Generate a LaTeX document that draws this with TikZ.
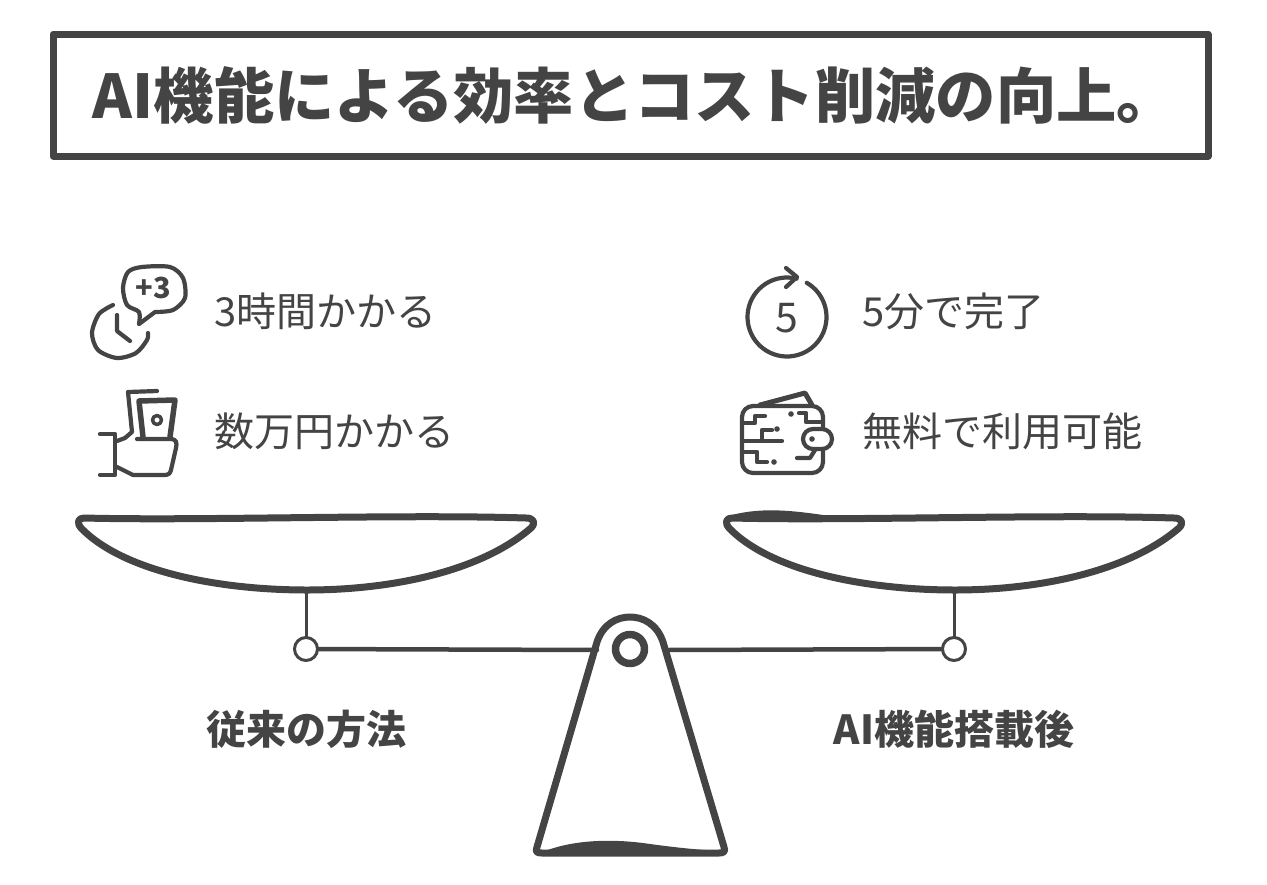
\documentclass[tikz,border=0pt]{standalone}
\usepackage{fontspec}
\setmainfont{Noto Sans CJK JP}
\definecolor{ink}{HTML}{444444}
\begin{document}
\begin{tikzpicture}[x=1pt, y=-1pt, line join=round, line cap=round, draw=ink, text=ink,
  pin/.style={draw, circle, line width=3pt, minimum size=23pt, inner sep=0pt, fill=white},
  item/.style={anchor=west, inner sep=0pt, font=\fontsize{40}{40}\selectfont},
  side/.style={inner sep=0pt, font=\fontsize{40}{40}\selectfont\bfseries},
  icon/.style={line width=4.2pt}]
\useasboundingbox (0,0) rectangle (1267,884);
% title box
\node[draw, line width=7pt, minimum width=1155pt, minimum height=122pt, inner sep=0pt] (titlebox) at (630.5,95) {};
\node[inner sep=0pt, font=\fontsize{60.3}{60}\selectfont\bfseries] (title) at (635,95) {AI機能による効率とコスト削減の向上。};
% texts
\node[item] (timeL) at (214,311) {3時間かかる};
\node[item] (costL) at (214,431) {数万円かかる};
\node[item] (timeR) at (862,311) {5分で完了};
\node[item] (costR) at (862,431) {無料で利用可能};
\node[side] (sideL) at (306,729) {従来の方法};
\node[side] (sideR) at (954,729) {AI機能搭載後};
% pans, stems and pins
\foreach \s/\dx in {L/0,R/648}{
  \draw[line width=7pt] (84+\dx,518) .. controls (200+\dx,521) and (400+\dx,514) .. (526+\dx,518)
    .. controls (534+\dx,518) and (536+\dx,523) .. (531+\dx,528)
    .. controls (480+\dx,572) and (390+\dx,590) .. (307+\dx,590)
    .. controls (220+\dx,590) and (125+\dx,572) .. (82+\dx,529)
    .. controls (76+\dx,523) and (78+\dx,518) .. (84+\dx,518) -- cycle;
  \coordinate (pan\s) at (306+\dx,590);
  \node[pin] (pin\s) at (306+\dx,649) {};
  \draw[line width=3pt] (pan\s) -- (pin\s);
}
\fill[ink] (728,516) .. controls (760,507) and (790,510) .. (830,516) -- (728,519) -- cycle;
% beam and stand
\coordinate (armL) at (597,650);
\coordinate (armR) at (667,650);
\draw[line width=4.5pt] (pinL) -- (armL);
\draw[line width=4.5pt] (pinR) -- (armR);
\draw[line width=7pt] (537,847) -- (597,642) .. controls (603,624) and (617,617) .. (630,617)
  .. controls (643,617) and (657,624) .. (663,642) -- (724,847)
  .. controls (726,852) and (723,853) .. (719,853) -- (542,853)
  .. controls (537,853) and (535,852) .. (537,847) -- cycle;
\fill[ink] (540,853) .. controls (570,840) and (610,838) .. (650,844) .. controls (680,848) and (700,850) .. (722,851)
  -- (719,855) -- (542,855) -- cycle;
\node[draw, circle, line width=7.5pt, minimum size=29pt, inner sep=0pt] (pivot) at (630,649) {};
% clock with bubble
\draw[icon] plot[smooth] coordinates {(113,305) (99,314) (92,333) (98,350) (117,358) (136,353) (147,340) (148,333)};
\draw[icon] (117,315) -- (117,331) -- (130,341);
\draw[icon] plot[smooth] coordinates {(139,324) (139,312) (127,305) (123,288) (128,272) (142,267) (170,267) (183,278) (185,298) (173,310) (155,312)} -- (139,324);
\node[inner sep=0pt, font=\fontsize{29}{29}\selectfont\bfseries] (plusthree) at (153,288) {+3};
% hand with bill
\draw[icon] (100,434) -- (115,434) -- (115,475) -- (100,475);
\draw[icon] (117,441) -- (125,438) -- (132,432) -- (128,392) -- (157,391);
\draw[icon] (137,439) -- (170,439) .. controls (177,439) and (177,443) .. (176,448) -- (171,470) .. controls (170,474) and (168,475) .. (164,475) -- (133,475) -- (117,467);
\draw[icon, line width=5.5pt] (143,437) -- (139,401) -- (175,400) -- (170,437);
\node[draw, circle, line width=3.5pt, minimum size=9pt, inner sep=0pt] (coin) at (157,420) {};
% circular arrow with 5
\draw[icon] plot[domain=60:-284, samples=60, smooth] ({787+39.5*cos(\x)},{317-39.5*sin(\x)});
\draw[icon] (786,268) -- (797,277) -- (786,287);
\node[inner sep=0pt, font=\fontsize{41}{41}\selectfont] (five) at (787,318) {5};
% wallet
\draw[icon, line width=5pt] (760,405) -- (805,393) -- (812,405);
\draw[icon, rounded corners=11pt] (742,406) rectangle (823,473);
\draw[icon, rounded corners=10pt, fill=white] (803,429) rectangle (832,449);
\foreach \dotx/\doty in {812/439,777/429,774/462,791/414}{
  \fill[ink] (\dotx,\doty) circle (2.8pt);
}
\draw[icon] (742,423) -- (755,423) -- (755,416) -- (765,416);
\draw[icon] (743,441) -- (782,441);
\draw[icon] (762,441) -- (762,430) -- (772,430);
\draw[icon] (742,452) -- (757,452) -- (757,462) -- (767,462);
\draw[icon] (799,413) -- (806,413) -- (806,422) -- (823,422);
\draw[icon] (797,458) -- (810,458) -- (815,450);
\end{tikzpicture}
\end{document}
